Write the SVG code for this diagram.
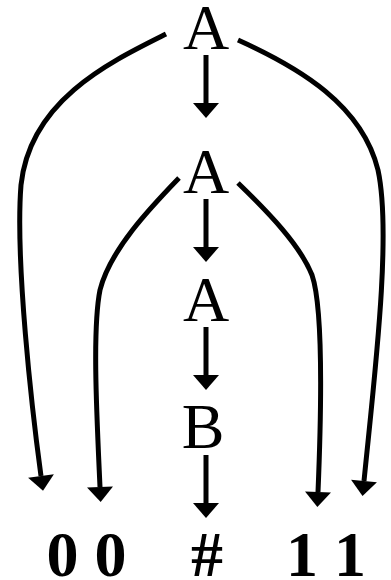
<svg xmlns="http://www.w3.org/2000/svg" width="391" height="580" viewBox="0 0 391 580">
<style>
.n{font-family:"Liberation Serif","Times New Roman",serif;font-size:64px;fill:#000;text-anchor:middle}
.b{font-weight:bold}
.e{fill:none;stroke:#000;stroke-width:5}
</style>
<defs>
<marker id="ah" markerUnits="userSpaceOnUse" markerWidth="16" markerHeight="28" refX="0" refY="13" orient="auto" overflow="visible">
<path d="M0,0 L15,13 L0,26 Z" fill="#000"/>
</marker>
</defs>
<rect width="391" height="580" fill="#fff"/>
<g id="edges">
<path class="e" d="M206,55 V103" marker-end="url(#ah)"/>
<path class="e" d="M206,199 V247" marker-end="url(#ah)"/>
<path class="e" d="M206,327 V375" marker-end="url(#ah)"/>
<path class="e" d="M206,455 V503" marker-end="url(#ah)"/>
<path class="e" d="M166,34 C110,62 30,100 21,185 C15,260 32,410 41,476" marker-end="url(#ah)"/>
<path class="e" d="M238,40 C300,68 362,105 378,170 C392,235 374,380 364,481" marker-end="url(#ah)"/>
<path class="e" d="M179,178 C150,208 110,250 100,290 C92,330 97,420 100,487" marker-end="url(#ah)"/>
<path class="e" d="M238,183 C268,212 300,245 312,275 C324,310 321,420 318,492" marker-end="url(#ah)"/>
</g>
<g id="A1"><text class="n" x="206" y="49">A</text></g>
<g id="A2"><text class="n" x="206" y="193">A</text></g>
<g id="A3"><text class="n" x="206" y="321">A</text></g>
<g id="B"><text class="n" x="203" y="448">B</text></g>
<g id="t00"><text class="n b" x="86.5" y="576">0 0</text></g>
<g id="thash"><text class="n b" x="207" y="576">#</text></g>
<g id="t11"><text class="n b" x="326" y="576">1 1</text></g>
</svg>
